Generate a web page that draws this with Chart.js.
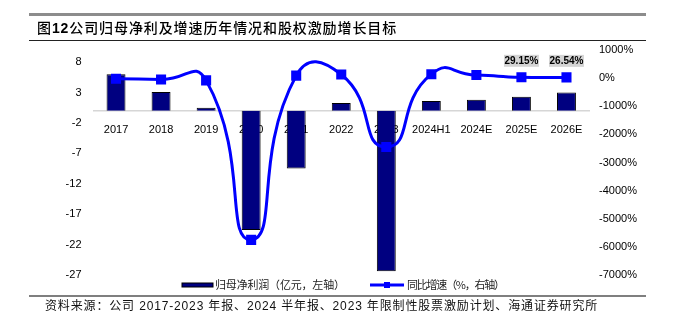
<!DOCTYPE html>
<html>
<head>
<meta charset="utf-8">
<script src="https://cdn.jsdelivr.net/npm/chart.js@4/dist/chart.umd.min.js"></script>
<style>
    body { margin: 0; background: #fff; }
    #wrap { position: relative; width: 673px; height: 324px; overflow: hidden; }
    #chart { position: absolute; left: 0; top: 0; }
    .rule { position: absolute; left: 29px; width: 617px; }
    #title {
        position: absolute; left: 37px; top: 18px; font-size: 14px; line-height: 18px; font-weight: 500;
        font-family: "Noto Sans CJK SC", sans-serif; color: #000; white-space: nowrap;
    }
    #title b { font-family: "Liberation Sans", Arial, sans-serif; font-weight: bold; }
    #source {
        position: absolute; left: 45px; top: 298px; font-size: 12px; line-height: 16px;
        font-family: "Liberation Sans", Arial, "Noto Sans CJK SC", sans-serif; color: #111; white-space: nowrap;
    }
</style>
</head>
<body>
<div id="wrap">
    <canvas id="chart" width="673" height="324"></canvas>
    <div class="rule" style="top:13px;height:3px;background:#8c8c8c"></div>
    <div id="title">图<b>12</b>公司归母净利及增速历年情况和股权激励增长目标</div>
    <div class="rule" style="top:40px;height:1px;background:#222"></div>
    <div class="rule" style="top:295px;height:2px;background:#7f7f7f"></div>
    <div id="source">资料来源：公司 2017-2023 年报、2024 半年报、2023 年限制性股票激励计划、海通证券研究所</div>
</div>
<script>
// ── DATA ──────────────────────────────────────────────────────
const categories = ['2017', '2018', '2019', '2020', '2021', '2022', '2023', '2024H1', '2024E', '2025E', '2026E'];
const netProfit  = [6.0, 3.1, 0.5, -19.6, -9.5, 1.3, -26.4, 1.6, 1.8, 2.3, 3.0];   // 亿元
const yoyGrowth  = [-20, -48, -80, -5750, 90, 130, -2450, 140, 110, 29.15, 26.54]; // %
const leftTicks  = [-27, -22, -17, -12, -7, -2, 3, 8];
const rightTicks = [-7000, -6000, -5000, -4000, -3000, -2000, -1000, 0, 1000];
const labelledPoints = ['2025E', '2026E'];

const FONT = '"Liberation Sans", Arial, sans-serif';
const CJK = '"Noto Sans CJK SC", sans-serif';

// stretch a text line to the width it has in the original
function fitWidth(id, target) {
    const el = document.getElementById(id);
    const n = [...el.textContent].length;
    const w = el.getBoundingClientRect().width;
    el.style.letterSpacing = ((target - w) / n).toFixed(2) + 'px';
}
fitWidth('title', 360);
fitWidth('source', 553);

function drawSpaced(ctx, text, x, y, width) {
    const chars = [...text];
    const total = chars.reduce((s, c) => s + ctx.measureText(c).width, 0);
    const gap = (width - total) / (chars.length - 1);
    let cx = x;
    chars.forEach(c => {
        ctx.fillText(c, cx, y);
        cx += ctx.measureText(c).width + gap;
    });
}

// value boxes above the target years
const valueLabels = {
    id: 'valueLabels',
    afterDatasetsDraw(chart) {
        const ctx = chart.ctx;
        const meta = chart.getDatasetMeta(1);
        ctx.save();
        ctx.font = 'bold 10px ' + FONT;
        ctx.textAlign = 'center';
        ctx.textBaseline = 'middle';
        labelledPoints.forEach(cat => {
            const i = categories.indexOf(cat);
            const pt = meta.data[i];
            const text = yoyGrowth[i].toFixed(2) + '%';
            const w = ctx.measureText(text).width + 1;
            const cy = pt.y - 16.5;
            ctx.fillStyle = '#d4d4d4';
            ctx.fillRect(pt.x - w / 2, cy - 6, w, 12);
            ctx.fillStyle = '#000';
            ctx.fillText(text, pt.x, cy + 0.5);
        });
        ctx.restore();
    }
};

// bottom legend, placed like the original
const bottomLegend = {
    id: 'bottomLegend',
    afterDraw(chart) {
        const ctx = chart.ctx;
        const ds = chart.data.datasets;
        const y = 285;
        ctx.save();
        // bar item
        ctx.fillStyle = ds[0].backgroundColor;
        ctx.fillRect(182, y - 2, 31, 4);
        ctx.strokeStyle = '#000';
        ctx.lineWidth = 1;
        ctx.strokeRect(182, y - 2, 31, 4);
        // line item
        ctx.strokeStyle = ds[1].borderColor;
        ctx.lineWidth = 3;
        ctx.beginPath();
        ctx.moveTo(370, y);
        ctx.lineTo(404, y);
        ctx.stroke();
        ctx.fillStyle = ds[1].borderColor;
        ctx.fillRect(384, y - 3, 6, 6);
        ctx.font = '11px ' + CJK;
        ctx.fillStyle = '#222';
        ctx.textBaseline = 'middle';
        drawSpaced(ctx, ds[0].label, 215, y, 130);
        drawSpaced(ctx, ds[1].label, 407, y, 98);
        ctx.restore();
    }
};

new Chart(document.getElementById('chart'), {
    data: {
        labels: categories,
        datasets: [{
            type: 'bar',
            label: '归母净利润（亿元，左轴）',
            data: netProfit,
            yAxisID: 'y',
            backgroundColor: '#000080',
            borderColor: '#000',
            borderWidth: 1,
            barPercentage: 0.42,
            categoryPercentage: 1,
            order: 2
        }, {
            type: 'line',
            label: '同比增速（%，右轴）',
            data: yoyGrowth,
            yAxisID: 'y1',
            borderColor: '#0000ff',
            backgroundColor: '#0000ff',
            borderWidth: 3,
            tension: 0.6,
            pointStyle: 'rect',
            pointRadius: 5,
            order: 1
        }]
    },
    options: {
        responsive: false,
        animation: false,
        layout: { padding: { top: 50, bottom: 49, left: 0, right: 0 } },
        plugins: { legend: { display: false }, tooltip: { enabled: false } },
        scales: {
            x: {
                type: 'category',
                position: { y: 0 },
                offset: true,
                z: 1,
                grid: { display: false },
                border: { display: true, color: '#d6d6d6', width: 1.5 },
                ticks: { color: '#000', font: { size: 11, family: FONT }, padding: 5, maxRotation: 0, autoSkip: false }
            },
            y: {
                position: 'left',
                min: -27,
                max: 10,
                grid: { display: false, drawTicks: false },
                border: { display: false },
                ticks: { color: '#000', font: { size: 11, family: FONT }, padding: 12 },
                afterBuildTicks: scale => { scale.ticks = leftTicks.map(v => ({ value: v })); },
                afterFit: scale => { scale.width = 93.5; }
            },
            y1: {
                position: 'right',
                min: -7000,
                max: 1000,
                grid: { display: false, drawTicks: false },
                border: { display: false },
                ticks: { color: '#000', font: { size: 11, family: FONT }, padding: 10, callback: v => v + '%' },
                afterBuildTicks: scale => { scale.ticks = rightTicks.map(v => ({ value: v })); },
                afterFit: scale => { scale.width = 84; }
            }
        }
    },
    plugins: [valueLabels, bottomLegend]
});
</script>
</body>
</html>
